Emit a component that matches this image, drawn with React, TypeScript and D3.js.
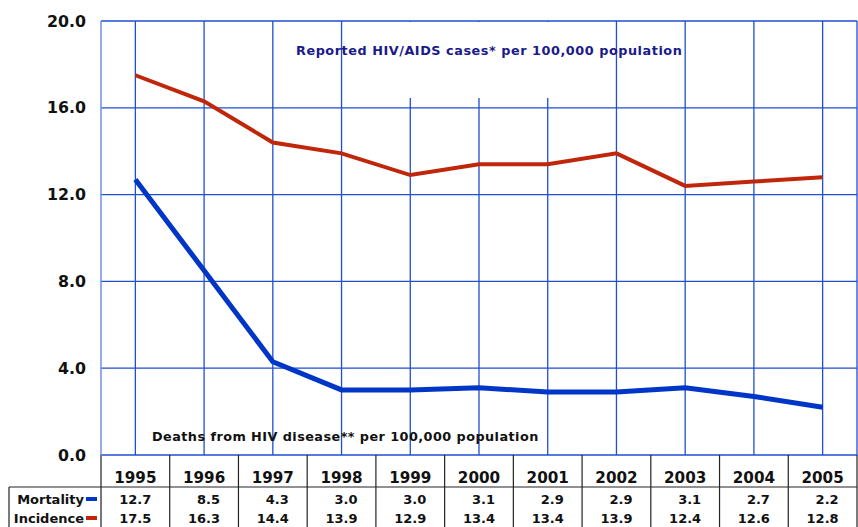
import React, { useRef, useEffect } from 'react';
import * as d3 from 'd3';

const years = ['1995', '1996', '1997', '1998', '1999', '2000', '2001', '2002', '2003', '2004', '2005'];
const mortality = [12.7, 8.5, 4.3, 3.0, 3.0, 3.1, 2.9, 2.9, 3.1, 2.7, 2.2];
const incidence = [17.5, 16.3, 14.4, 13.9, 12.9, 13.4, 13.4, 13.9, 12.4, 12.6, 12.8];
const yTicks = [0, 4, 8, 12, 16, 20];
const seriesNames = ['Mortality', 'Incidence'];
const topLabel = 'Reported HIV/AIDS cases* per 100,000 population';
const bottomLabel = 'Deaths from HIV disease** per 100,000 population';

const App = () => {
  const chartRef = useRef<SVGSVGElement | null>(null);

  useEffect(() => {
    const width = 858;
    const height = 527;
    const left = 101;
    const right = 857;
    const top = 21;
    const bottom = 455;
    const font = '"DejaVu Sans", Verdana, sans-serif';
    const gridColor = '#1f4fd0';
    const colors = ['#0036c8', '#c0260a'];

    const svg = d3.select(chartRef.current);
    svg.selectAll('*').remove();
    svg.attr('width', width).attr('height', height);

    const x = d3.scaleBand().domain(years).range([left, right]);
    const y = d3.scaleLinear().domain([0, 20]).range([bottom, top]);
    const cx = (d: string) => (x(d) as number) + x.bandwidth() / 2;

    // horizontal grid
    svg.append('g')
      .selectAll('line')
      .data(yTicks)
      .join('line')
      .attr('x1', left).attr('x2', right)
      .attr('y1', d => y(d)).attr('y2', d => y(d))
      .attr('stroke', gridColor)
      .attr('stroke-width', 1.3);

    // vertical grid at each year
    svg.append('g')
      .selectAll('line')
      .data(years)
      .join('line')
      .attr('x1', d => cx(d)).attr('x2', d => cx(d))
      .attr('y1', top).attr('y2', bottom)
      .attr('stroke', gridColor)
      .attr('stroke-width', 1.3);

    // plot edges
    svg.append('line')
      .attr('x1', left).attr('x2', left).attr('y1', top).attr('y2', bottom)
      .attr('stroke', '#6f8fe0').attr('stroke-width', 1.5);
    svg.append('line')
      .attr('x1', right).attr('x2', right).attr('y1', top).attr('y2', bottom)
      .attr('stroke', gridColor).attr('stroke-width', 1.3);

    // title box hides part of the grid
    svg.append('rect')
      .attr('x', cx('1998') + 2).attr('y', top + 1)
      .attr('width', cx('2002') - cx('1998') - 4)
      .attr('height', 76)
      .attr('fill', 'white');

    svg.append('text')
      .attr('x', 296).attr('y', 55)
      .attr('font-family', font).attr('font-weight', 'bold').attr('font-size', 12.8)
      .attr('letter-spacing', 0.55)
      .attr('fill', '#1a1a8a')
      .text(topLabel);

    svg.append('text')
      .attr('x', 152).attr('y', 441)
      .attr('font-family', font).attr('font-weight', 'bold').attr('font-size', 12.8)
      .attr('letter-spacing', 0.45)
      .attr('fill', '#111')
      .text(bottomLabel);

    // y tick labels
    svg.append('g')
      .selectAll('text')
      .data(yTicks)
      .join('text')
      .attr('x', 86)
      .attr('y', d => y(d))
      .attr('dy', '0.36em')
      .attr('text-anchor', 'end')
      .attr('font-family', font).attr('font-weight', 'bold').attr('font-size', 15.8)
      .attr('fill', '#111')
      .text(d => d.toFixed(1));

    // lines
    [incidence, mortality].forEach((vals, i) => {
      const line = d3.line<number>()
        .x((_, j) => cx(years[j]))
        .y(d => y(d));
      svg.append('path')
        .datum(vals)
        .attr('d', line)
        .attr('fill', 'none')
        .attr('stroke', i === 0 ? colors[1] : colors[0])
        .attr('stroke-width', i === 0 ? 4 : 5);
    });

    // data table
    const table = svg.append('g');
    const edges = years.map(d => x(d) as number).concat([right]);
    table.selectAll('line.col')
      .data(edges)
      .join('line')
      .attr('class', 'col')
      .attr('x1', d => d).attr('x2', d => d)
      .attr('y1', bottom).attr('y2', height)
      .attr('stroke', (d, i) => (i === 0 ? '#777' : '#222'))
      .attr('stroke-width', (d, i) => (i === 0 ? 2 : 1.2));
    table.append('line')
      .attr('x1', 9).attr('x2', right).attr('y1', 487).attr('y2', 487)
      .attr('stroke', '#222').attr('stroke-width', 1.2);
    table.append('line')
      .attr('x1', 9).attr('x2', 9).attr('y1', 487).attr('y2', height)
      .attr('stroke', '#222').attr('stroke-width', 1.2);

    table.selectAll('text.year')
      .data(years)
      .join('text')
      .attr('class', 'year')
      .attr('x', d => cx(d))
      .attr('y', 483)
      .attr('text-anchor', 'middle')
      .attr('font-family', font).attr('font-weight', 'bold').attr('font-size', 15.2)
      .attr('fill', '#111')
      .text(d => d);

    [mortality, incidence].forEach((vals, i) => {
      const base = i === 0 ? 504 : 523;
      table.append('text')
        .attr('x', 84).attr('y', base)
        .attr('text-anchor', 'end')
        .attr('font-family', font).attr('font-weight', 'bold').attr('font-size', 13)
        .attr('fill', '#111')
        .text(seriesNames[i]);
      table.append('rect')
        .attr('x', 86).attr('y', base - 7)
        .attr('width', 11).attr('height', 4)
        .attr('fill', colors[i]);
      table.selectAll(`text.v${i}`)
        .data(vals)
        .join('text')
        .attr('class', `v${i}`)
        .attr('x', (_, j) => cx(years[j]) + 16)
        .attr('y', base)
        .attr('text-anchor', 'end')
        .attr('font-family', font).attr('font-weight', 'bold').attr('font-size', 13)
        .attr('fill', '#111')
        .text(d => d.toFixed(1));
    });
  }, []);

  return (
    <svg ref={chartRef} style={{ position: 'absolute', left: 0, top: 0 }}></svg>
  );
};

export default App;
